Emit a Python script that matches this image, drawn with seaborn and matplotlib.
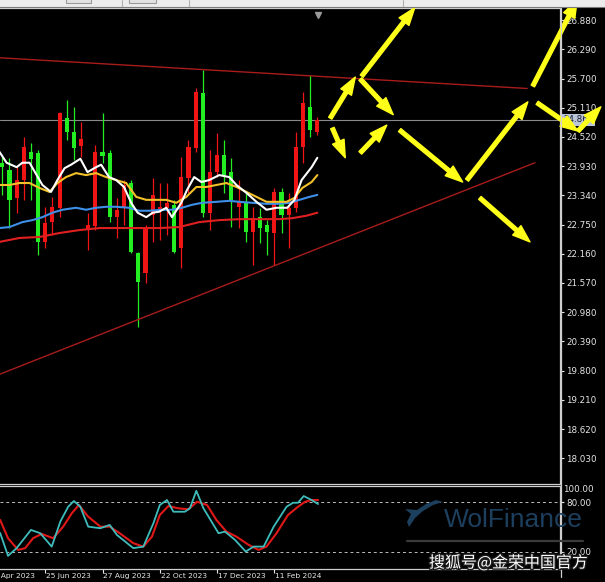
import matplotlib
matplotlib.use("Agg")
import matplotlib.pyplot as plt
import matplotlib.patheffects as pe
from matplotlib.patches import Rectangle, Polygon
from matplotlib.lines import Line2D
from matplotlib.transforms import blended_transform_factory
import seaborn as sns

# weekly candles (bar index 0 = first visible bar)
opens = [23.91, 23.25, 23.65, 24.32, 24.08, 22.40, 22.78, 23.11, 25.01, 24.62,
         24.30, 24.48, 22.74, 24.22, 24.14, 22.90, 23.05, 23.55, 22.20, 21.59,
         22.68, 23.35, 23.11, 23.19, 22.20, 23.71, 24.32, 25.43, 22.99, 23.81,
         24.16, 23.75, 23.25, 23.21, 22.60, 22.88, 22.68, 22.60, 23.41, 22.95,
         23.09, 24.32, 25.21, 24.66, 24.86]
highs = [24.16, 24.10, 23.91, 24.52, 24.40, 24.26, 23.11, 23.31, 25.03, 25.27,
         25.13, 24.82, 22.99, 24.36, 25.01, 24.26, 23.29, 23.65, 23.65, 22.20,
         22.74, 23.69, 23.59, 23.59, 23.25, 24.12, 24.46, 25.51, 25.87, 24.26,
         24.60, 24.46, 24.10, 23.65, 23.41, 23.11, 23.09, 22.84, 23.49, 23.49,
         23.39, 24.62, 25.43, 25.77, 24.92]
lows = [23.35, 22.68, 22.99, 23.25, 23.25, 22.14, 22.28, 22.54, 22.90, 24.46,
        24.06, 24.12, 22.24, 22.64, 24.00, 22.80, 22.48, 22.74, 22.18, 20.68,
        21.57, 22.40, 22.44, 22.54, 22.18, 21.87, 23.39, 24.22, 22.90, 22.64,
        23.71, 23.39, 22.70, 22.68, 22.40, 21.94, 22.38, 22.14, 21.94, 22.58,
        22.28, 23.01, 24.00, 24.52, 24.56]
closes = [24.00, 23.85, 23.29, 23.65, 24.22, 24.20, 22.40, 22.80, 23.09, 24.90,
          24.62, 24.34, 22.64, 22.72, 24.22, 24.20, 22.90, 23.11, 23.59, 22.18,
          21.77, 22.95, 23.03, 23.09, 23.15, 22.28, 23.69, 24.30, 25.41, 22.99,
          23.81, 24.16, 23.81, 23.11, 23.19, 22.60, 22.90, 22.74, 22.58, 23.41,
          22.95, 23.09, 24.32, 25.13, 24.62]

# moving averages (bar position, price)
ma_white_x = [-0.4, 0.6, 2.0, 2.8, 3.8, 5.6, 6.8, 7.7, 8.7, 9.6, 10.9, 11.9, 13.1, 13.8,
              14.9, 15.9, 17.0, 18.0, 18.9, 20.1, 21.0, 21.9, 22.9, 23.7, 25.0, 25.8,
              26.8, 27.8, 28.9, 30.3, 31.7, 32.7, 34.1, 35.5, 36.9, 38.3, 39.8, 40.8,
              41.8, 43.2, 44.0]
ma_white = [24.22, 24.00, 23.91, 24.00, 24.00, 23.55, 23.41, 23.65, 23.89, 23.96, 24.08,
            23.81, 23.91, 23.96, 23.71, 23.65, 23.51, 23.19, 22.99, 22.90, 22.99, 23.01,
            23.09, 22.90, 23.19, 23.45, 23.71, 23.61, 23.65, 23.75, 23.71, 23.55, 23.39,
            23.21, 23.05, 23.09, 23.09, 23.25, 23.65, 23.91, 24.10]
ma_yellow_x = [-0.4, 1.0, 2.4, 3.8, 5.2, 6.6, 7.7, 8.9, 10.3, 11.7, 13.1, 14.5, 15.9,
               17.3, 18.7, 20.1, 21.5, 22.9, 24.3, 25.7, 27.1, 28.5, 29.9, 31.3, 32.7,
               34.1, 35.5, 36.9, 38.3, 39.7, 40.8, 41.9, 43.2, 44.0]
ma_yellow = [23.55, 23.55, 23.59, 23.59, 23.49, 23.41, 23.59, 23.71, 23.79, 23.75, 23.79,
             23.71, 23.65, 23.59, 23.31, 23.25, 23.25, 23.25, 23.19, 23.31, 23.51, 23.51,
             23.55, 23.59, 23.51, 23.41, 23.31, 23.21, 23.21, 23.21, 23.29, 23.49, 23.61,
             23.75]
ma_blue_x = [-0.4, 1.0, 2.8, 4.2, 5.6, 7.0, 8.4, 10.3, 11.7, 13.1, 14.5, 15.9, 17.7,
             19.1, 20.5, 22.4, 23.7, 25.1, 26.5, 27.9, 29.9, 31.7, 33.1, 34.9, 36.9,
             38.7, 40.1, 41.5, 42.9, 44.0]
ma_blue = [22.68, 22.70, 22.80, 22.84, 22.90, 22.99, 23.05, 23.09, 23.05, 23.09, 23.11,
           23.11, 23.09, 23.03, 23.03, 23.05, 23.05, 23.09, 23.15, 23.19, 23.21, 23.23,
           23.21, 23.19, 23.17, 23.17, 23.19, 23.25, 23.31, 23.35]
ma_red_x = [-0.4, 2.4, 5.2, 8.0, 10.8, 13.6, 16.3, 19.1, 21.9, 24.7, 27.5, 30.3, 33.1,
            35.9, 38.7, 40.5, 42.5, 44.0]
ma_red = [22.40, 22.48, 22.50, 22.58, 22.64, 22.68, 22.68, 22.68, 22.68, 22.70, 22.80,
          22.84, 22.86, 22.86, 22.86, 22.88, 22.93, 22.99]

# stochastic oscillator
stoch_k_x = [-0.3, 0.8, 2.0, 4.0, 5.3, 6.9, 8.1, 9.2, 10.0, 10.9, 12.0, 13.7, 15.0, 16.0,
             18.3, 19.7, 21.1, 22.0, 23.0, 23.9, 25.5, 26.2, 27.1, 28.1, 30.2, 31.1, 32.5,
             34.0, 35.1, 36.5, 37.9, 39.7, 40.6, 41.3, 42.1, 43.2, 44.1]
stoch_k = [42.8, 15.2, 24.5, 46.5, 42.5, 26.4, 56.4, 74.4, 81.3, 74.4, 50.4, 48.5, 52.5,
           40.5, 24.5, 26.4, 54.5, 76.5, 82.5, 68.4, 68.4, 72.5, 93.6, 72.5, 42.5, 44.4,
           34.5, 20.4, 26.4, 26.4, 50.4, 74.4, 79.2, 79.2, 87.3, 82.5, 77.7]
stoch_d_x = [-0.3, 0.8, 2.2, 3.2, 4.3, 5.5, 7.1, 8.5, 9.7, 10.7, 12.0, 13.7, 15.0, 16.4,
             18.3, 19.7, 20.9, 22.0, 23.2, 24.6, 26.0, 27.2, 28.6, 29.9, 31.3, 32.7, 34.4,
             35.8, 36.9, 38.3, 39.9, 41.3, 42.3, 43.2, 44.1]
stoch_d = [58.5, 36.5, 22.4, 24.5, 36.5, 41.7, 36.5, 50.4, 66.5, 76.5, 62.4, 50.4, 50.4,
           42.5, 30.5, 26.4, 38.4, 64.5, 75.3, 72.5, 71.3, 80.4, 76.5, 58.5, 44.4, 38.4,
           28.5, 22.4, 26.4, 42.5, 64.5, 74.4, 80.4, 82.5, 82.5]

price_ticks = [26.88, 26.29, 25.70, 25.11, 24.52, 23.93, 23.34, 22.75, 22.16, 21.57,
               20.98, 20.39, 19.80, 19.21, 18.62, 18.03]
stoch_ticks = [80, 20]
date_pos = [-2, 6, 14, 22, 30, 38]
date_labels = ["30 Apr 2023", "25 Jun 2023", "27 Aug 2023", "22 Oct 2023",
               "17 Dec 2023", "11 Feb 2024"]
last_price = 24.867

# hand drawn trend lines and forecast arrows (bar position, price)
trend_upper = ([-0.3, 73.3], [26.12, 25.50])
trend_lower = ([-0.3, 74.4], [19.73, 24.00])
arrows = [
    ((45.8, 24.90), (49.3, 25.73)),
    ((50.0, 25.69), (54.6, 24.97)),
    ((46.1, 24.70), (47.9, 24.10)),
    ((50.0, 24.20), (53.7, 24.76)),
    ((55.5, 24.66), (64.3, 23.61)),
    ((64.9, 23.65), (73.4, 25.23)),
    ((66.7, 23.29), (73.7, 22.40)),
    ((50.2, 25.75), (57.6, 27.13)),
    ((74.1, 25.55), (80.3, 27.29)),
    ((74.7, 25.21), (80.4, 24.64)),
    ((80.4, 24.64), (83.6, 25.13)),
]

W, H = 605, 582
UP, DOWN = "#22ee22", "#f01414"
LABEL = "#e6e6e6"
FRAME = "#cfcfcf"

sns.set_theme(style="dark", rc={"axes.facecolor": "black", "figure.facecolor": "black",
                                "axes.grid": False, "axes.edgecolor": FRAME})
plt.rcParams["font.family"] = ["DejaVu Sans"]


def fx(px):
    return px / W


def fy(py):
    return 1 - py / H


fig = plt.figure(figsize=(W / 100, H / 100), dpi=100, facecolor="black")
ax = fig.add_axes([0, fy(484), fx(560), fy(8) - fy(484)])
sax = fig.add_axes([0, fy(568.5), fx(560), fy(485.5) - fy(568.5)])

xlim = (-2.3 / 7.16, (560 - 2.3) / 7.16)
for a in (ax, sax):
    a.set_facecolor("black")
    for side, sp in a.spines.items():
        sp.set_color(FRAME)
        sp.set_linewidth(0.9)
    a.spines["left"].set_visible(False)

# candles
idx = list(range(len(opens)))
colors = [UP if c >= o else DOWN for o, c in zip(opens, closes)]
bottoms = [min(o, c) for o, c in zip(opens, closes)]
heights = [max(abs(c - o), 0.03) for o, c in zip(opens, closes)]
ax.vlines(idx, lows, highs, colors=colors, lw=0.9, zorder=2)
ax.bar(idx, heights, bottom=bottoms, width=0.58, color=colors, lw=0, zorder=3)

# moving averages
for xs, ys, col in [(ma_red_x, ma_red, "#e02020"), (ma_blue_x, ma_blue, "#3d8fe8"),
                    (ma_yellow_x, ma_yellow, "#f2c12a"), (ma_white_x, ma_white, "#ffffff")]:
    sns.lineplot(x=xs, y=ys, ax=ax, color=col, lw=1.5, estimator=None, sort=False,
                 legend=False, zorder=4)

ax.plot(*trend_upper, color="#a81c1c", lw=1.0, zorder=4)
ax.plot(*trend_lower, color="#a81c1c", lw=1.0, zorder=4)
ax.axhline(last_price, color="#8a8a8a", lw=0.8, zorder=1)

# price axis
ax.yaxis.tick_right()
ax.set_yticks(price_ticks)
ax.set_yticklabels([f"{v:.3f}" for v in price_ticks])
ax.tick_params(axis="y", colors=LABEL, labelsize=6.3, length=3, width=0.8, pad=1.5,
               right=True, left=False)
ax.tick_params(axis="x", bottom=False, labelbottom=False)
ax.set_xlim(*xlim)
ax.set_ylim(17.509, 27.126)
trans = blended_transform_factory(ax.transAxes, ax.transData)
ax.text(1.006, last_price, f"{last_price:.3f}", transform=trans, fontsize=6.3,
        color="#1a1a2a", va="center", ha="left", zorder=5,
        bbox=dict(boxstyle="square,pad=0.15", fc="#b8c4d8", ec="none"))
ax.plot([44.1], [0.985], marker="v", ms=5, color="#9a9a9a", clip_on=False,
        transform=blended_transform_factory(ax.transData, ax.transAxes))

for (x0, y0), (x1, y1) in arrows:
    ax.annotate("", xy=(x1, y1), xytext=(x0, y0), annotation_clip=False, zorder=10,
                arrowprops=dict(arrowstyle="simple,tail_width=0.3,head_width=1.0,head_length=1.4",
                                color="#ffff1a", shrinkA=0, shrinkB=0, mutation_scale=9))

# stochastic
for lvl in (80, 20):
    sax.axhline(lvl, color="#bdbdbd", lw=0.7, ls=(0, (3, 3)))
sns.lineplot(x=stoch_d_x, y=stoch_d, ax=sax, color="#e01818", lw=1.5, estimator=None,
             sort=False, legend=False)
sns.lineplot(x=stoch_k_x, y=stoch_k, ax=sax, color="#3fbcbc", lw=1.3, estimator=None,
             sort=False, legend=False)
sax.yaxis.tick_right()
sax.set_yticks(stoch_ticks)
sax.set_yticklabels([f"{v:.2f}" for v in stoch_ticks])
sax.tick_params(axis="y", colors=LABEL, labelsize=6.3, length=3, width=0.8, pad=1.5,
                right=True, left=False)
sax.text(1.006, 100, "100.00", transform=blended_transform_factory(sax.transAxes, sax.transData),
         fontsize=6.3, color=LABEL, va="top", ha="left")

# date scale: ticks on the axis, labels start at the tick (first one runs off the left edge)
sax.set_xticks(date_pos)
sax.set_xticklabels([])
sax.tick_params(axis="x", colors=LABEL, length=3, width=0.8, bottom=True)
for pos, lab in zip(date_pos, date_labels):
    sax.annotate(lab, xy=(pos, 0), xycoords=("data", "axes fraction"), xytext=(0.6, -3.2),
                 textcoords="offset points", ha="left", va="top", fontsize=5.4,
                 color=LABEL, annotation_clip=False)
sax.set_xlim(*xlim)
sax.set_ylim(0, 100)
sax.set_xlabel("")
sax.set_ylabel("")
ax.set_xlabel("")
ax.set_ylabel("")

# window chrome
fig.patches.append(Rectangle((0, fy(7)), 1, 1 - fy(7), transform=fig.transFigure,
                             fc="#ececec", ec="none"))
for bx0, bx1 in [(66, 91), (129, 156)]:
    fig.patches.append(Rectangle((fx(bx0), fy(3)), fx(bx1 - bx0), fy(-3) - fy(3),
                                 transform=fig.transFigure, fc="#e2e2e2", ec="#9a9a9a", lw=0.8))
for sx in (122, 189, 403):
    fig.lines.append(Line2D([fx(sx), fx(sx)], [fy(0), fy(6)], transform=fig.transFigure,
                            color="#b0b0b0", lw=0.8))
fig.lines.append(Line2D([0, 1], [fy(7.3), fy(7.3)], transform=fig.transFigure,
                        color="#7a7a7a", lw=0.8))
fig.lines.append(Line2D([fx(560.5), fx(560.5)], [fy(8), fy(577)], transform=fig.transFigure,
                        color=FRAME, lw=0.9))

# watermark
fish = [(443, 502), (433, 505), (423, 511), (415, 518), (409, 527), (407, 522), (411, 514),
        (405, 509), (417, 510), (426, 504), (436, 500)]
fig.patches.append(Polygon([(fx(a), fy(b)) for a, b in fish], closed=True,
                           transform=fig.transFigure, fc="#1d3f5e", ec="none"))
fig.text(fx(444), fy(520), "WolFinance", color="#1d3f5e", fontsize=19,
         family="Liberation Sans", va="center", ha="left")
fig.lines.append(Line2D([fx(407), fx(583)], [fy(541), fy(541)], transform=fig.transFigure,
                        color="#3a3a3a", lw=1.6))
fig.text(fx(588), fy(563), "搜狐号@金荣中国官方", color="white", fontsize=11.5,
         family=["Noto Sans CJK SC", "DejaVu Sans"], va="center", ha="right",
         path_effects=[pe.withStroke(linewidth=2, foreground="#1a1a1a")])

fig.savefig("out.png", dpi=100, facecolor="black")
